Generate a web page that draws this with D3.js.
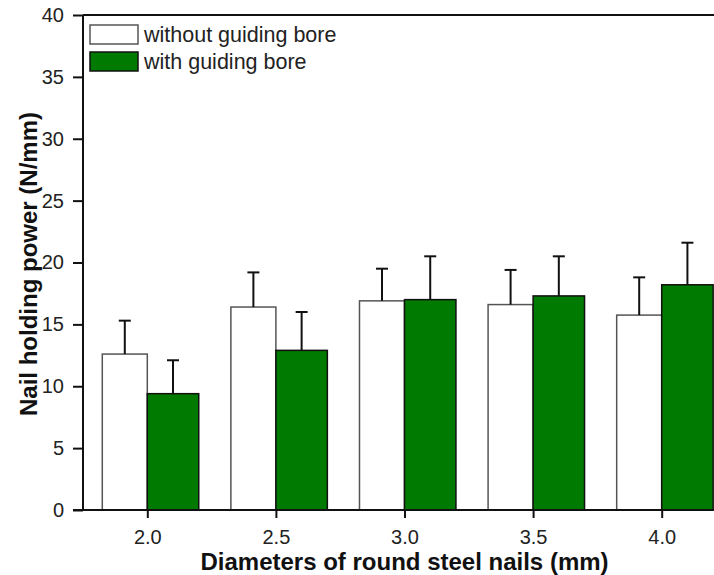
<!DOCTYPE html>
<html><head><meta charset="utf-8">
<script src="https://cdn.jsdelivr.net/npm/d3@7"></script>
<style>body{margin:0;background:#fff}svg{display:block;font-family:"Liberation Sans",Arial,sans-serif}</style>
</head><body>
<svg id="c" width="714" height="575"></svg>
<script>
const categories = [2.0, 2.5, 3.0, 3.5, 4.0];
const tickLabels = ["2.0", "2.5", "3.0", "3.5", "4.0"];
const seriesNames = ["without guiding bore", "with guiding bore"];
const withoutBore = [12.6, 16.4, 16.9, 16.6, 15.75];
const withoutBoreSD = [2.7, 2.8, 2.6, 2.8, 3.05];
const withBore = [9.4, 12.9, 17.0, 17.3, 18.2];
const withBoreSD = [2.7, 3.1, 3.5, 3.2, 3.4];
const yTicks = [0, 5, 10, 15, 20, 25, 30, 35, 40];

(function () {
const svg = d3.select("#c");
const mLeft = 83, mTop = 15, mBottom = 510, mRight = 726;
const x = d3.scaleLinear().domain([1.75, 4.25]).range([mLeft, mRight]);
const y = d3.scaleLinear().domain([0, 40]).range([mBottom, mTop]);
const green = "#007a00";
const wWhite = 0.175, wGreen = 0.2;

const g = svg.append("g");

g.selectAll("rect.wo").data(categories).join("rect").attr("class", "wo")
  .attr("x", (d) => x(d - wWhite)).attr("width", (d) => x(d) - x(d - wWhite))
  .attr("y", (d, i) => y(withoutBore[i])).attr("height", (d, i) => y(0) - y(withoutBore[i]))
  .attr("fill", "#fff").attr("stroke", "#555").attr("stroke-width", 1.5);
g.selectAll("rect.wi").data(categories).join("rect").attr("class", "wi")
  .attr("x", (d) => x(d)).attr("width", (d) => x(d + wGreen) - x(d))
  .attr("y", (d, i) => y(withBore[i])).attr("height", (d, i) => y(0) - y(withBore[i]))
  .attr("fill", green).attr("stroke", "#111").attr("stroke-width", 1.5);

function errs(vals, sds, off) {
  categories.forEach((c, i) => {
    const cx = x(c + off);
    g.append("line").attr("x1", cx).attr("x2", cx)
      .attr("y1", y(vals[i])).attr("y2", y(vals[i] + sds[i]))
      .attr("stroke", "#111").attr("stroke-width", 2);
    g.append("line").attr("x1", cx - 6).attr("x2", cx + 6)
      .attr("y1", y(vals[i] + sds[i])).attr("y2", y(vals[i] + sds[i]))
      .attr("stroke", "#111").attr("stroke-width", 2);
  });
}
errs(withoutBore, withoutBoreSD, -wWhite / 2);
errs(withBore, withBoreSD, wGreen / 2);

const yAxis = svg.append("g").attr("transform", `translate(${mLeft},0)`)
  .call(d3.axisLeft(y).tickValues(yTicks).tickSize(10).tickPadding(9).tickFormat(d3.format("d")));
const xAxis = svg.append("g").attr("transform", `translate(0,${mBottom})`)
  .call(d3.axisBottom(x).tickValues(categories).tickSize(8).tickPadding(12).tickFormat((d, i) => tickLabels[i]));
[yAxis, xAxis].forEach(a => {
  a.select(".domain").attr("stroke", "#111").attr("stroke-width", 2);
  a.selectAll(".tick line").attr("stroke", "#111").attr("stroke-width", 2);
  a.selectAll("text").attr("font-size", 20).attr("fill", "#222").attr("font-family", "Liberation Sans, Arial, sans-serif");
});
yAxis.select(".domain").attr("d", `M0,${mTop}V${mBottom}`);
xAxis.select(".domain").attr("d", `M${mLeft - 10},0H${mRight}`);
svg.append("line").attr("x1", mLeft).attr("x2", 714).attr("y1", mTop).attr("y2", mTop)
  .attr("stroke", "#111").attr("stroke-width", 2);

svg.append("text").attr("transform", `translate(37,264) rotate(-90)`)
  .attr("text-anchor", "middle").attr("font-weight", "bold").attr("font-size", 24).attr("fill", "#111")
  .text("Nail holding power (N/mm)");
svg.append("text").attr("x", x(3.0)).attr("y", 570)
  .attr("text-anchor", "middle").attr("font-weight", "bold").attr("font-size", 24).attr("fill", "#111")
  .text("Diameters of round steel nails (mm)");

const leg = svg.append("g");
const legFills = ["#fff", green];
const legStrokes = ["#555", "#111"];
seriesNames.forEach((n, i) => {
  leg.append("rect").attr("x", 90).attr("y", 25 + i * 27).attr("width", 48).attr("height", 19)
    .attr("fill", legFills[i]).attr("stroke", legStrokes[i]).attr("stroke-width", 1.5);
  leg.append("text").attr("x", 144).attr("y", 42 + i * 27).attr("font-size", 21.5).attr("fill", "#222").text(n);
});
})();
</script>
</body></html>
